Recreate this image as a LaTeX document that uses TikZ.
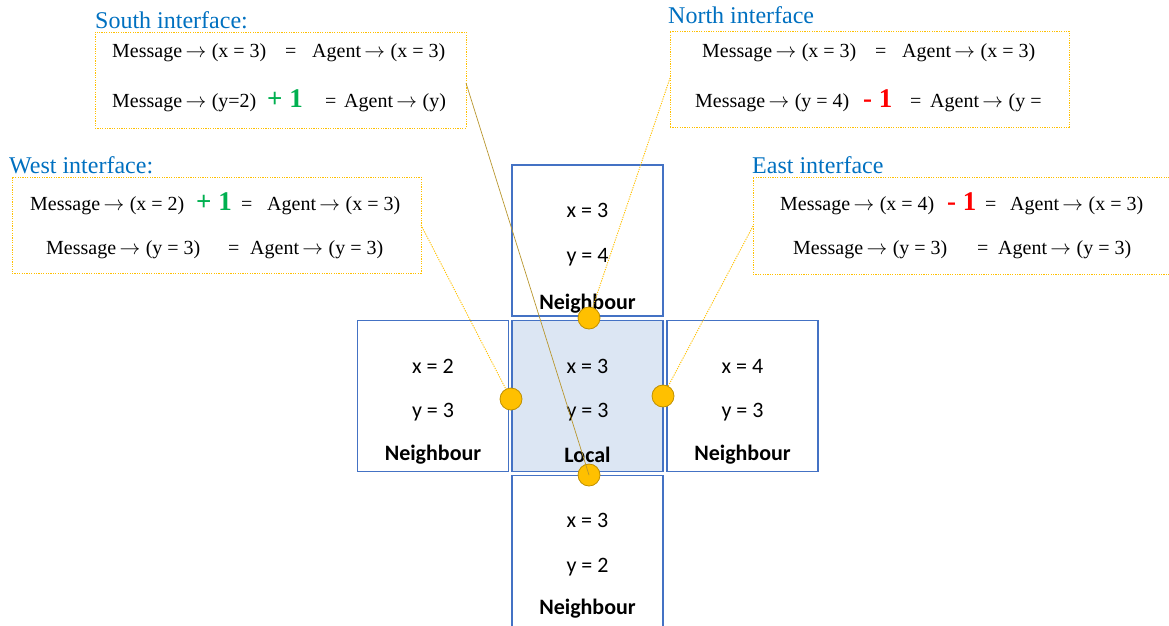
\documentclass[tikz,border=0pt]{standalone}
\usepackage{fontspec}
\setmainfont{Liberation Serif}
\newfontfamily\calfont{Carlito}
\usetikzlibrary{calc}
\definecolor{boxblue}{HTML}{4472C4}
\definecolor{localfill}{HTML}{DCE6F3}
\definecolor{gold}{HTML}{FFC000}
\definecolor{golddark}{HTML}{BF9000}
\definecolor{southline}{HTML}{B8962E}
\definecolor{titleblue}{HTML}{0070C0}
\definecolor{plusgreen}{HTML}{00B050}
\definecolor{minusred}{HTML}{FF0000}
\newcommand{\ra}{\,$\rightarrow$\;}
\begin{document}
\begin{tikzpicture}[x=1pt,y=-1pt,
  cell/.style={draw=boxblue, line width=1.8pt, minimum width=151pt, minimum height=151pt, inner sep=0, outer sep=0},
  celltxt/.style={inner sep=0, font=\calfont\fontsize{22}{26}\selectfont},
  celllbl/.style={inner sep=0, font=\calfont\bfseries\fontsize{22}{26}\selectfont},
  msg/.style={anchor=base west, inner sep=0, font=\fontsize{20}{23}\selectfont},
  ttl/.style={anchor=base west, inner sep=0, text=titleblue, font=\fontsize{24}{28}\selectfont},
  sign/.style={anchor=base west, inner sep=0, font=\bfseries\fontsize{27}{30}\selectfont},
  callout/.style={draw=gold, dash pattern=on 1.2pt off 1.2pt, line width=0.9pt, inner sep=0},
  port/.style={circle, fill=gold, draw=golddark, line width=0.8pt, minimum size=22pt, inner sep=0},
  leader/.style={draw=gold, dash pattern=on 1.2pt off 1.2pt, line width=0.9pt},
  sleader/.style={draw=southline, line width=0.7pt}
]
\useasboundingbox (0,0) rectangle (1169,625);

% cells
\node[cell] (N) at (587.5,240.5) {};
\node[cell, fill=localfill] (L) at (587.5,396) {};
\node[cell] (W) at (433,396) {};
\node[cell] (E) at (742.5,396) {};
\node[cell] (S) at (587.5,551) {};

% cell texts
\node[celltxt] (Nx) at (587.5,210) {x = 3};
\node[celltxt] (Ny) at (587.5,257) {y = 4};
\node[celllbl] (Nl) at (587.5,304) {Neighbour};
\node[celltxt] (Lx) at (587.5,366) {x = 3};
\node[celltxt] (Ly) at (587.5,412) {y = 3};
\node[celllbl] (Ll) at (587.5,455) {Local};
\node[celltxt] (Wx) at (433,366) {x = 2};
\node[celltxt] (Wy) at (433,412) {y = 3};
\node[celllbl] (Wl) at (433,455) {Neighbour};
\node[celltxt] (Ex) at (742.5,366) {x = 4};
\node[celltxt] (Ey) at (742.5,412) {y = 3};
\node[celllbl] (El) at (742.5,455) {Neighbour};
\node[celltxt] (Sx) at (587.5,520) {x = 3};
\node[celltxt] (Sy) at (587.5,567) {y = 2};
\node[celllbl] (Sl) at (587.5,609) {Neighbour};

% ports
\node[port] (PN) at (589,318) {};
\node[port] (PW) at (511,399) {};
\node[port] (PE) at (663,396) {};
\node[port] (PS) at (589,475) {};

% callout boxes
\node[callout, minimum width=371pt, minimum height=96pt] (Sc) at (280.5,80) {};
\node[callout, minimum width=399pt, minimum height=96pt] (Nc) at (869.5,79) {};
\node[callout, minimum width=409pt, minimum height=96pt] (Wc) at (216.5,225) {};
\node[callout, minimum width=419pt, minimum height=97pt] (Ec) at (962.5,225.5) {};

% titles
\node[ttl] (St) at (95,28) {South interface:};
\node[ttl] (Nt) at (668,23) {North interface};
\node[ttl] (Wt) at (9,173) {West interface:};
\node[ttl] (Et) at (752,173) {East interface};

% South texts
\node[msg] (S1a) at (112,57) {Message\ra(x = 3)};
\node[msg] (S1b) at (285,57) {=};
\node[msg] (S1c) at (312,57) {Agent\ra(x = 3)};
\node[msg] (S2a) at (112,107) {Message\ra(y=2)};
\node[sign, text=plusgreen] (S2s) at (267,107) {+ 1};
\node[msg] (S2b) at (325,107) {=};
\node[msg] (S2c) at (344,107) {Agent\ra(y)};

% North texts
\node[msg] (N1a) at (702,57) {Message\ra(x = 3)};
\node[msg] (N1b) at (875,57) {=};
\node[msg] (N1c) at (902,57) {Agent\ra(x = 3)};
\node[msg] (N2a) at (695,107) {Message\ra(y = 4)};
\node[sign, text=minusred] (N2s) at (863,107) {- 1};
\node[msg] (N2b) at (910,107) {=};
\node[msg] (N2c) at (930,107) {Agent\ra(y =};

% West texts
\node[msg] (W1a) at (30,210) {Message\ra(x = 2)};
\node[sign, text=plusgreen] (W1s) at (196,210) {+ 1};
\node[msg] (W1b) at (241,210) {=};
\node[msg] (W1c) at (267,210) {Agent\ra(x = 3)};
\node[msg] (W2a) at (46,254) {Message\ra(y = 3)};
\node[msg] (W2b) at (228,254) {=};
\node[msg] (W2c) at (250,254) {Agent\ra(y = 3)};

% East texts
\node[msg] (E1a) at (780,210) {Message\ra(x = 4)};
\node[sign, text=minusred] (E1s) at (947,210) {- 1};
\node[msg] (E1b) at (985,210) {=};
\node[msg] (E1c) at (1010,210) {Agent\ra(x = 3)};
\node[msg] (E2a) at (793,254) {Message\ra(y = 3)};
\node[msg] (E2b) at (977,254) {=};
\node[msg] (E2c) at (998,254) {Agent\ra(y = 3)};

% leader lines
\coordinate (sl) at (466,83);
\coordinate (nl) at (670,78);
\coordinate (wl) at (421,225);
\coordinate (el) at (753,226);
\draw[leader] (nl) -- (PN);
\draw[leader] (wl) -- (PW);
\draw[leader] (el) -- (PE);
\draw[sleader] (sl) -- (PS.center);
\end{tikzpicture}
\end{document}
